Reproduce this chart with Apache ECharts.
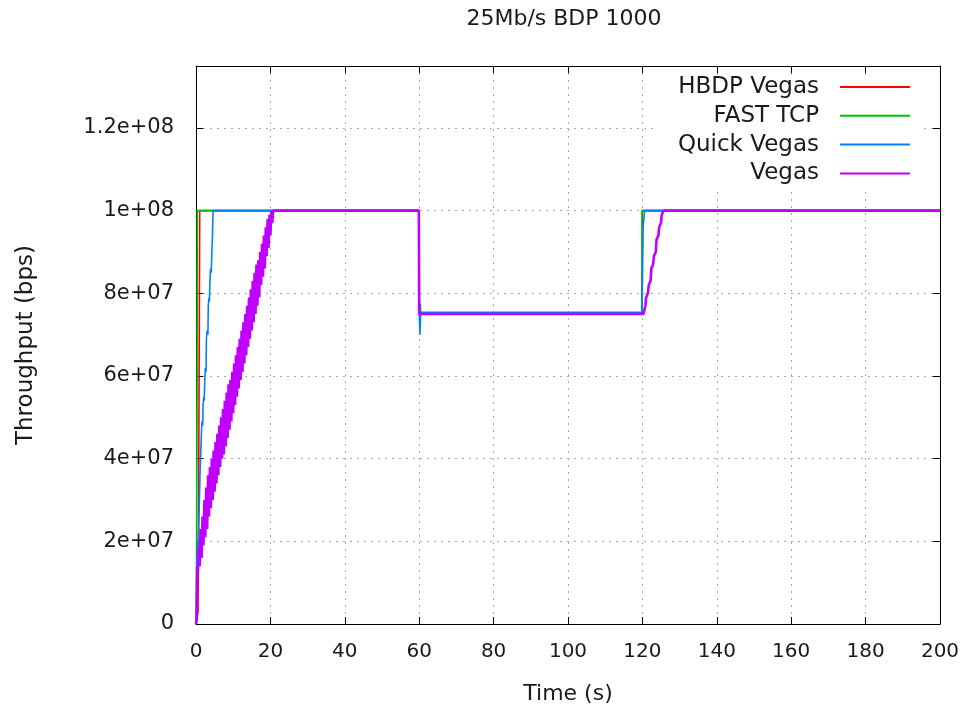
<!DOCTYPE html>
<html>
<head>
<meta charset="utf-8">
<script src="https://cdn.jsdelivr.net/npm/echarts@6/dist/echarts.min.js"></script>
<style>
  html, body { margin: 0; padding: 0; background: #ffffff; }
  #chart { width: 965px; height: 711px; }
</style>
</head>
<body>
<div id="chart"></div>
<script>
// Axis ticks
const xTickValues = [0, 20, 40, 60, 80, 100, 120, 140, 160, 180, 200];
const yTickLabels = ['0', '2e+07', '4e+07', '6e+07', '8e+07', '1e+08', '1.2e+08'];

const seriesNames = ['HBDP Vegas', 'FAST TCP', 'Quick Vegas', 'Vegas'];
const seriesColors = ['#ff0000', '#00c000', '#0080ff', '#c000ff'];
const seriesWidths = [1.6, 1.6, 1.6, 2.6];

// Throughput samples: time in seconds, rate in Mb/s
const hbdpTime = [0, 0.55, 0.7, 0.72, 0.98, 1.0, 59.9, 60.0, 60.3, 119.9, 120.0, 200];
const hbdpRate = [0, 3, 3, 33, 33, 100, 100, 75, 75, 75, 100, 100];

const fastTime = [0, 0.1, 0.2, 0.3, 0.35, 59.9, 60.0, 60.3, 60.45, 119.85, 119.9, 200];
const fastRate = [0, 5, 30, 60, 100, 100, 75, 77.5, 75, 75, 100, 100];

const quickTime = [0, 0.2, 0.3, 0.5, 0.6, 0.8, 1.0, 1.1, 1.3, 1.45, 1.6, 1.8, 1.9, 2.1,
  2.2, 2.4, 2.5, 2.7, 2.8, 3.0, 3.2, 3.3, 3.5, 3.6, 3.8, 3.9, 4.1, 4.3, 4.4, 4.5, 4.6,
  59.9, 60.05, 60.2, 60.35, 60.5, 62.5, 62.9, 64.0, 69.0, 69.4, 70.5, 75.5, 75.9, 77.0,
  82.0, 82.4, 83.5, 88.5, 88.9, 90.0, 95.0, 95.4, 96.5, 101.5, 101.9, 103.0, 108.0,
  108.4, 109.5, 114.5, 114.9, 116.0, 119.9, 120.1, 120.2, 120.4, 120.6, 200];
const quickRate = [0, 0, 17, 20, 18, 26, 33, 37, 42, 46, 49, 48, 53, 55,
  54, 60, 62, 61, 69, 71, 70, 77, 79, 78, 84, 86, 85, 91, 93, 97, 100,
  100, 74, 70, 74, 75.4, 75.4, 75.0, 75.4, 75.4, 75.0, 75.4, 75.4, 75.0, 75.4,
  75.4, 75.0, 75.4, 75.4, 75.0, 75.4, 75.4, 75.0, 75.4, 75.4, 75.0, 75.4, 75.4,
  75.0, 75.4, 75.4, 75.0, 75.4, 75.4, 75.4, 96, 98, 100, 100];

const vegasTime = [0, 0.2, 0.3, 0.5, 0.75, 1.0, 1.25, 1.5, 1.75, 2.0, 2.25, 2.5, 2.75,
  3.0, 3.25, 3.5, 3.75, 4.0, 4.25, 4.5, 4.75, 5.0, 5.25, 5.5, 5.75, 6.0, 6.25, 6.5,
  6.75, 7.0, 7.25, 7.5, 7.75, 8.0, 8.25, 8.5, 8.75, 9.0, 9.25, 9.5, 9.75, 10.0, 10.25,
  10.5, 10.75, 11.0, 11.25, 11.5, 11.75, 12.0, 12.25, 12.5, 12.75, 13.0, 13.25, 13.5,
  13.75, 14.0, 14.25, 14.5, 14.75, 15.0, 15.25, 15.5, 15.75, 16.0, 16.25, 16.5, 16.75,
  17.0, 17.25, 17.5, 17.75, 18.0, 18.25, 18.5, 18.75, 19.0, 19.25, 19.5, 19.75, 20.0,
  20.25, 20.5, 20.75, 21.0, 59.9, 60.0, 120.3, 120.8, 121.0, 121.5, 121.7, 122.2, 122.4,
  122.9, 123.1, 123.6, 123.8, 124.3, 124.5, 125.0, 125.2, 125.7, 200];
const vegasRate = [0, 1, 14, 12, 19, 14, 23, 16, 26, 19, 30, 21, 33,
  23, 36, 26, 38, 28, 40, 30, 42, 32, 44, 34, 46, 36, 48, 38,
  50, 40, 52, 41, 54, 43, 56, 45, 58, 47, 59, 49, 61, 51, 63,
  53, 65, 55, 67, 57, 69, 59, 71, 61, 73, 63, 75, 65,
  77, 67, 79, 69, 81, 71, 83, 73, 85, 75, 87, 77, 88,
  79, 90, 82, 92, 84, 94, 86, 96, 89, 98, 91, 99, 94,
  100, 97, 100, 100, 100, 75, 75, 77, 79, 80, 82, 83, 86,
  87, 89, 90, 93, 94, 96, 97, 99, 100, 100];

const FONT = '"DejaVu Sans", sans-serif';
const TEXT = '#1a1a1a';

function pairs(times, rates) {
  return times.map((t, i) => [t, rates[i] * 1e6]);
}

const seriesData = [
  pairs(hbdpTime, hbdpRate),
  pairs(fastTime, fastRate),
  pairs(quickTime, quickRate),
  pairs(vegasTime, vegasRate)
];

function yLabel(v) {
  const idx = Math.round(v / 2e7);
  if (Math.abs(v - idx * 2e7) < 1 && idx < yTickLabels.length) return yTickLabels[idx];
  return '';
}

const gridDash = { color: '#a8a8a8', width: 1, type: [2, 5] };
const border = { show: true, onZero: false, lineStyle: { color: '#000', width: 1 } };
const innerTick = { show: true, inside: true, length: 7, lineStyle: { color: '#000', width: 1 } };

const chart = echarts.init(document.getElementById('chart'), null, { renderer: 'canvas' });

chart.setOption({
  animation: false,
  backgroundColor: '#ffffff',
  grid: { left: 196, right: 25, top: 66, bottom: 87, containLabel: false },
  graphic: [{
    type: 'text',
    x: 564, y: 19,
    style: {
      text: '25Mb/s BDP 1000',
      font: '22px ' + FONT,
      fill: TEXT,
      align: 'center',
      verticalAlign: 'middle'
    }
  }],
  legend: {
    data: seriesNames,
    orient: 'vertical',
    align: 'right',
    right: 45,
    top: 75.5,
    icon: 'rect',
    itemWidth: 70,
    itemHeight: 2,
    itemGap: 5.8,
    padding: [0, 10, 4, 21],
    backgroundColor: '#ffffff',
    selectedMode: false,
    textStyle: {
      fontFamily: FONT,
      fontSize: 23,
      lineHeight: 23,
      color: TEXT,
      padding: [0, 16, 0, 0]
    }
  },
  xAxis: [{
    type: 'value',
    min: 0, max: 200, interval: 20,
    position: 'bottom',
    axisLine: border,
    axisTick: innerTick,
    axisLabel: { color: TEXT, fontFamily: FONT, fontSize: 20, margin: 18 },
    splitLine: { show: true, lineStyle: gridDash },
    name: 'Time (s)',
    nameLocation: 'middle',
    nameGap: 59,
    nameTextStyle: { color: TEXT, fontFamily: FONT, fontSize: 22 }
  }, {
    type: 'value',
    min: 0, max: 200, interval: 20,
    position: 'top',
    axisLine: border,
    axisTick: innerTick,
    axisLabel: { show: false },
    splitLine: { show: false }
  }],
  yAxis: [{
    type: 'value',
    min: 0, max: 1.35e8, interval: 2e7,
    position: 'left',
    axisLine: border,
    axisTick: innerTick,
    axisLabel: {
      color: TEXT, fontFamily: FONT, fontSize: 21, margin: 22,
      formatter: yLabel, showMaxLabel: false
    },
    splitLine: { show: true, lineStyle: gridDash },
    name: 'Throughput (bps)',
    nameLocation: 'middle',
    nameRotate: 90,
    nameGap: 158,
    nameTextStyle: { color: TEXT, fontFamily: FONT, fontSize: 23 }
  }, {
    type: 'value',
    min: 0, max: 1.35e8, interval: 2e7,
    position: 'right',
    axisLine: border,
    axisTick: innerTick,
    axisLabel: { show: false },
    splitLine: { show: false }
  }],
  series: seriesNames.map((name, i) => ({
    name: name,
    type: 'line',
    xAxisIndex: 0,
    yAxisIndex: 0,
    data: seriesData[i],
    showSymbol: false,
    symbol: 'none',
    color: seriesColors[i],
    lineStyle: { color: seriesColors[i], width: seriesWidths[i] },
    emphasis: { disabled: true }
  }))
});
</script>
</body>
</html>
